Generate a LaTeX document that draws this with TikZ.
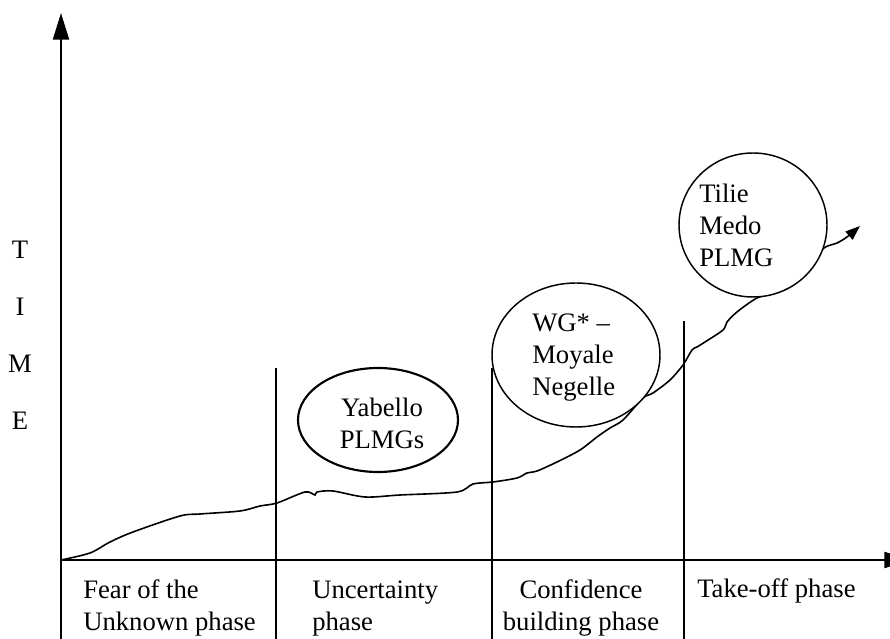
\documentclass[tikz,border=0pt]{standalone}
\usepackage{fontspec}
\setmainfont{Liberation Serif}
\usetikzlibrary{arrows.meta, shapes.geometric}

\begin{document}
\begin{tikzpicture}[x=0.75pt, y=0.75pt,
  axis/.style={line width=1.5pt, -{Triangle[length=20pt, width=12pt]}},
  divider/.style={line width=1.5pt},
  bubble/.style={ellipse, draw, line width=1.1pt, fill=white, inner sep=0pt},
  lbl/.style={font=\fontsize{20}{24}\selectfont, inner sep=0pt, align=left}]
  \useasboundingbox (0,0) rectangle (890,639);

  % Axes
  \coordinate (O) at (61,79);
  \coordinate (ybot) at (61,0);
  \coordinate (ytop) at (61,626);
  \coordinate (xend) at (911,79);
  \draw[axis] (ybot) -- (ytop);
  \draw[axis] (O) -- (xend);

  % Time label
  \foreach \ch/\yy in {T/380, I/323, M/266, E/209}
    \node[lbl, anchor=base] (time\ch) at (20,\yy) {\ch};

  % Phase dividers
  \draw[divider] (276,0) -- (276,271);
  \draw[divider] (492,0) -- (492,271);
  \draw[divider] (684,0) -- (684,318);

  % Growth curve
  \draw[line width=1.2pt, -{Triangle[length=11pt, width=8pt]}]
    plot[smooth, tension=0.5] coordinates {
      (61,79) (90,86) (110,97) (133,107) (180,123) (200,125) (240,128)
      (260,133) (277,136) (305,147) (315,144) (317,147) (333,148)
      (365,142) (400,144) (457,147) (473,155) (493,157) (517,161)
      (527,166) (537,168) (557,177) (580,189) (597,202) (610,211)
      (623,219) (643,241) (653,246) (670,259) (683,274) (692,289)
      (697,292) (705,297) (723,309) (727,317) (737,327) (757,341)
      (780,349) (810,375) (824,391) (837,396) (847,402) (860,413)};

  % Bubbles
  \node[bubble, line width=1.6pt, minimum width=120pt, minimum height=78pt] (yabello) at (378,219) {};
  \node[bubble, minimum width=126pt, minimum height=108pt] (moyale) at (576,284) {};
  \node[bubble, minimum width=111pt, minimum height=108pt] (tilie) at (753,414) {};

  \node[lbl, anchor=base, align=center] (yabtxt) at (382,190) {Yabello\\PLMGs};
  \node[lbl, anchor=base west] (moytxt) at (532,243) {WG* –\\Moyale\\Negelle};
  \node[lbl, anchor=base west] (tiltxt) at (699,372) {Tilie\\Medo\\PLMG};

  % Phase names
  \node[lbl, anchor=base west] (fear) at (83,8) {Fear of the\\Unknown phase};
  \node[lbl, anchor=base west] (uncert) at (312,8) {Uncertainty\\phase};
  \node[lbl, anchor=base, align=center] (conf) at (581,8) {Confidence\\building phase};
  \node[lbl, anchor=base west] (takeoff) at (697,41) {Take-off phase};
\end{tikzpicture}
\end{document}
